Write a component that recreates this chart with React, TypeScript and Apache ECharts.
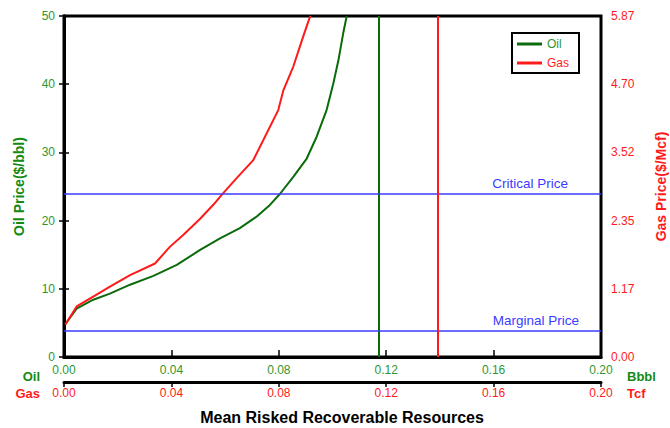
import React, { useEffect, useRef } from "react";
import * as echarts from "echarts";

// Oil curve: reserves (Bbbl) vs price ($/bbl)
const oilReserves = [0.0005, 0.0047, 0.0109, 0.0171, 0.0246, 0.0333, 0.042, 0.0507, 0.0581, 0.0655, 0.0718, 0.0767, 0.0804, 0.0854, 0.0904, 0.0941, 0.0978, 0.1003, 0.1022, 0.104, 0.1053];
const oilPrice = [4.8, 7.1, 8.4, 9.3, 10.6, 11.9, 13.5, 15.7, 17.4, 18.9, 20.6, 22.3, 23.9, 26.4, 29.1, 32.3, 36.2, 40.1, 43.5, 47.5, 50];

// Gas curve: reserves (Tcf) vs price ($/Mcf)
const gasReserves = [0.0005, 0.0047, 0.0109, 0.0171, 0.0246, 0.0339, 0.0395, 0.0444, 0.0507, 0.0556, 0.0593, 0.0643, 0.0705, 0.0742, 0.0798, 0.0817, 0.0854, 0.0891, 0.0914, 0.0918];
const gasPrice = [0.56, 0.87, 1.04, 1.21, 1.41, 1.61, 1.9, 2.1, 2.38, 2.62, 2.82, 3.08, 3.39, 3.73, 4.25, 4.59, 5.0, 5.52, 5.83, 5.87];

// Reference lines
const oilMeanReserves = 0.1171;
const gasMeanReserves = 0.1391;
const criticalPrice = 23.9;
const marginalPrice = 3.8;

// Axes
const xTickValues = [0, 0.04, 0.08, 0.12, 0.16, 0.2];
const oilPriceMax = 50;
const oilPriceStep = 10;
const gasPriceMax = 5.87;
const gasPriceStep = 1.174;

const FONT = "'Liberation Sans', Arial, sans-serif";
const GREEN_TXT = "#2f962f";
const GREEN_LINE = "#0b6b0b";
const RED = "#ff1a1a";
const BLUE = "#3b3bff";

export default function App() {
  const ref = useRef<HTMLDivElement>(null);
  useEffect(() => {
    if (!ref.current) return;
    const chart = echarts.init(ref.current, null, { renderer: "svg" });
    const oilData = oilReserves.map((x, i) => [x, oilPrice[i]]);
    const gasData = gasReserves.map((x, i) => [x, gasPrice[i]]);
    const xMax = xTickValues[xTickValues.length - 1];
    const xStep = xTickValues[1] - xTickValues[0];

    chart.setOption({
      animation: false,
      backgroundColor: "#ffffff",
      textStyle: { fontFamily: FONT },
      grid: {
        left: 64,
        right: 69,
        top: 16,
        bottom: 71,
        outerBoundsMode: "none",
        containLabel: false,
        show: true,
        borderColor: "#000",
        borderWidth: 3,
        backgroundColor: "transparent",
      },
      legend: {
        left: 512,
        top: 33,
        orient: "vertical",
        borderColor: "#000",
        borderWidth: 2,
        padding: [5, 10, 4, 5],
        itemGap: 7,
        itemWidth: 25,
        itemHeight: 3,
        icon: "rect",
        textStyle: { fontSize: 12, fontFamily: FONT },
        data: [
          { name: "Oil", textStyle: { color: GREEN_TXT } },
          { name: "Gas", textStyle: { color: RED } },
        ],
      },
      xAxis: [
        {
          type: "value",
          min: 0,
          max: xMax,
          interval: xStep,
          position: "bottom",
          offset: 0,
          splitLine: { show: false },
          axisLine: { lineStyle: { color: "#000", width: 3 } },
          axisTick: { inside: true, length: 7, lineStyle: { color: "#000", width: 1.5 } },
          axisLabel: {
            color: GREEN_TXT,
            fontSize: 12,
            margin: 7,
            formatter: (v: number) => v.toFixed(2),
          },
        },
        {
          type: "value",
          min: 0,
          max: xMax,
          interval: xStep,
          position: "bottom",
          offset: 25,
          splitLine: { show: false },
          axisLine: { onZero: false, lineStyle: { color: "#000", width: 3 } },
          axisTick: { inside: false, length: 5, lineStyle: { color: "#000", width: 1.5 } },
          axisLabel: {
            color: RED,
            fontSize: 12,
            margin: 5,
            formatter: (v: number) => v.toFixed(2),
          },
        },
      ],
      yAxis: [
        {
          type: "value",
          min: 0,
          max: oilPriceMax,
          interval: oilPriceStep,
          position: "left",
          splitLine: { show: false },
          axisLine: { show: true, lineStyle: { color: "#000", width: 3 } },
          axisTick: { show: true, length: 5, lineStyle: { color: "#000", width: 1.5 } },
          axisLabel: { color: GREEN_TXT, fontSize: 12, margin: 9 },
          name: "Oil Price($/bbl)",
          nameLocation: "middle",
          nameRotate: 90,
          nameGap: 38,
          nameTextStyle: { color: "#138a13", fontSize: 14, fontWeight: "bold", fontFamily: FONT },
        },
        {
          type: "value",
          min: 0,
          max: gasPriceMax,
          interval: gasPriceStep,
          position: "right",
          splitLine: { show: false },
          axisLine: { show: true, lineStyle: { color: "#000", width: 3 } },
          axisTick: { show: true, length: 5, lineStyle: { color: "#000", width: 1.5 } },
          axisLabel: {
            color: RED,
            fontSize: 12,
            margin: 10,
            formatter: (v: number) => v.toFixed(2),
          },
          name: "Gas Price($/Mcf)",
          nameLocation: "middle",
          nameRotate: 90,
          nameGap: 53,
          nameTextStyle: { color: RED, fontSize: 14, fontWeight: "bold", fontFamily: FONT },
        },
      ],
      series: [
        {
          name: "Oil",
          type: "line",
          xAxisIndex: 0,
          yAxisIndex: 0,
          data: oilData,
          showSymbol: false,
          symbol: "none",
          lineStyle: { color: GREEN_LINE, width: 2 },
          itemStyle: { color: GREEN_LINE },
          z: 3,
          markLine: {
            silent: true,
            precision: 4,
            symbol: ["none", "none"],
            animation: false,
            data: [
              {
                xAxis: oilMeanReserves,
                lineStyle: { color: GREEN_LINE, width: 2, type: "solid" },
                label: { show: false },
              },
              {
                yAxis: criticalPrice,
                lineStyle: { color: BLUE, width: 1.5, type: "solid" },
                label: {
                  show: true,
                  position: "insideEndTop",
                  distance: [33, 4],
                  formatter: "Critical Price",
                  color: BLUE,
                  fontSize: 13.5,
                  fontFamily: FONT,
                },
              },
              {
                yAxis: marginalPrice,
                lineStyle: { color: BLUE, width: 1.5, type: "solid" },
                label: {
                  show: true,
                  position: "insideEndTop",
                  distance: [22, 4],
                  formatter: "Marginal Price",
                  color: BLUE,
                  fontSize: 13.5,
                  fontFamily: FONT,
                },
              },
            ],
          },
        },
        {
          name: "Gas",
          type: "line",
          xAxisIndex: 1,
          yAxisIndex: 1,
          data: gasData,
          showSymbol: false,
          symbol: "none",
          lineStyle: { color: RED, width: 2 },
          itemStyle: { color: RED },
          z: 3,
          markLine: {
            silent: true,
            precision: 4,
            symbol: ["none", "none"],
            animation: false,
            data: [
              {
                xAxis: gasMeanReserves,
                lineStyle: { color: RED, width: 2, type: "solid" },
                label: { show: false },
              },
            ],
          },
        },
      ],
      graphic: [
        {
          type: "text",
          x: 40,
          y: 376,
          style: { text: "Oil", fill: "#138a13", font: `bold 13px ${FONT}`, align: "right", verticalAlign: "middle" },
        },
        {
          type: "text",
          x: 40,
          y: 393,
          style: { text: "Gas", fill: RED, font: `bold 13px ${FONT}`, align: "right", verticalAlign: "middle" },
        },
        {
          type: "text",
          x: 627,
          y: 376,
          style: { text: "Bbbl", fill: "#138a13", font: `bold 13px ${FONT}`, align: "left", verticalAlign: "middle" },
        },
        {
          type: "text",
          x: 627,
          y: 393,
          style: { text: "Tcf", fill: RED, font: `bold 13px ${FONT}`, align: "left", verticalAlign: "middle" },
        },
        {
          type: "text",
          x: 342,
          y: 417,
          style: { text: "Mean Risked Recoverable Resources", fill: "#000", font: `bold 16px ${FONT}`, align: "center", verticalAlign: "middle" },
        },
      ],
    });
    return () => chart.dispose();
  }, []);
  return (
    <div
      ref={ref}
      style={{ position: "fixed", left: 0, top: 0, width: 670, height: 428, background: "#fff" }}
    />
  );
}
